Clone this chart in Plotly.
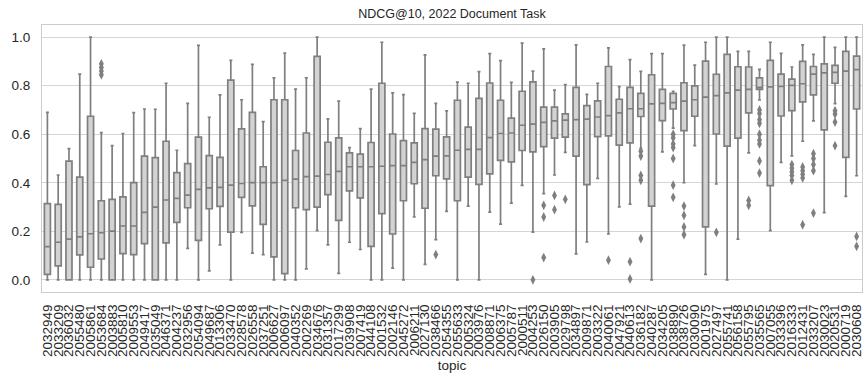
import plotly.graph_objects as go

topics = [
    "2032949","2033209","2036032","2055480","2005861","2053684","2003883","2005810","2009553","2049417",
    "2035049","2046371","2004237","2032956","2054094","2049687","2013306","2033470","2028578","2026558",
    "2037251","2006627","2006097","2040352","2002269","2034676","2031357","2017299","2039908","2007419",
    "2044108","2001532","2002146","2045272","2006211","2027130","2038466","2054355","2055633","2005324",
    "2003976","2008871","2006375","2005787","2000511","2004253","2026150","2003905","2029798","2034897",
    "2009871","2003322","2040061","2047921","2040613","2036182","2040287","2034205","2038890","2038726",
    "2030090","2001975","2027497","2055741","2056158","2055795","2035565","2007055","2033396","2016333",
    "2012431","2033207","2030023","2020531","2000719","2030608",
]

lower = [0, 0, 0, 0, 0, 0, 0, 0, 0, 0,
         0, 0, 0, 0.13, 0, 0.037, 0.144, 0, 0.196, 0.11,
         0.104, 0, 0, 0, 0.045, 0.203, 0.144, 0.027, 0.155, 0.125,
         0, 0, 0.048, 0, 0.259, 0.064, 0.166, 0.282, 0, 0.304,
         0, 0.279, 0.23, 0.316, 0.389, 0.197, 0.355, 0.432, 0.525, 0.107,
         0.156, 0.418, 0.189, 0.301, 0.312, 0.542, 0, 0.527, 0.625, 0.4,
         0.553, 0.023, 0.395, 0, 0.168, 0.523, 0.741, 0.203, 0.484, 0.511,
         0.571, 0.655, 0.277, 0.726, 0.344, 0.429]
q1 = [0.023, 0.058, 0, 0.103, 0.052, 0.086, 0, 0.108, 0.104, 0.149,
      0, 0.152, 0.237, 0.297, 0.163, 0.293, 0.303, 0.197, 0.34, 0.305,
      0.229, 0.095, 0.026, 0.297, 0.289, 0.3, 0.351, 0.245, 0.367, 0.338,
      0.138, 0.273, 0.189, 0.326, 0.396, 0.295, 0.429, 0.416, 0.326, 0.423,
      0.393, 0.437, 0.492, 0.486, 0.533, 0.527, 0.549, 0.584, 0.588, 0.51,
      0.392, 0.59, 0.593, 0.555, 0.564, 0.673, 0.304, 0.656, 0.704, 0.615,
      0.674, 0.218, 0.601, 0.551, 0.584, 0.688, 0.785, 0.388, 0.675, 0.697,
      0.733, 0.762, 0.618, 0.81, 0.505, 0.704]
median = [0.137, 0.155, 0.168, 0.177, 0.19, 0.195, 0.201, 0.222, 0.222, 0.278,
          0.3, 0.329, 0.336, 0.349, 0.373, 0.379, 0.381, 0.39, 0.397, 0.401,
          0.401, 0.401, 0.41, 0.415, 0.425, 0.427, 0.434, 0.447, 0.466, 0.466,
          0.466, 0.468, 0.471, 0.471, 0.484, 0.495, 0.51, 0.511, 0.534, 0.538,
          0.538, 0.586, 0.603, 0.605, 0.637, 0.642, 0.649, 0.655, 0.658, 0.66,
          0.662, 0.671, 0.677, 0.688, 0.705, 0.705, 0.725, 0.727, 0.73, 0.736,
          0.742, 0.753, 0.759, 0.77, 0.782, 0.785, 0.793, 0.795, 0.797, 0.801,
          0.808, 0.848, 0.853, 0.855, 0.86, 0.866]
q3 = [0.314, 0.311, 0.489, 0.423, 0.674, 0.326, 0.332, 0.342, 0.401, 0.51,
      0.504, 0.571, 0.442, 0.479, 0.588, 0.512, 0.505, 0.823, 0.622, 0.69,
      0.466, 0.742, 0.742, 0.533, 0.605, 0.921, 0.567, 0.585, 0.523, 0.518,
      0.566, 0.81, 0.601, 0.574, 0.564, 0.623, 0.621, 0.589, 0.74, 0.629,
      0.748, 0.811, 0.74, 0.666, 0.777, 0.816, 0.712, 0.712, 0.684, 0.793,
      0.718, 0.737, 0.879, 0.744, 0.793, 0.768, 0.845, 0.785, 0.768, 0.812,
      0.799, 0.901, 0.847, 0.929, 0.878, 0.877, 0.832, 0.904, 0.848, 0.827,
      0.9, 0.879, 0.89, 0.884, 0.941, 0.922]
upper = [0.69, 0.432, 0.541, 0.848, 1.0, 0.607, 0.553, 0.603, 0.689, 0.704,
         0.703, 0.81, 0.534, 0.727, 0.966, 0.67, 0.762, 0.904, 0.742, 0.888,
         0.652, 0.832, 0.934, 0.786, 0.832, 1.0, 0.663, 0.736, 0.545, 0.623,
         0.786, 0.979, 0.77, 0.763, 0.686, 0.927, 0.727, 0.696, 0.815, 0.81,
         0.858, 0.932, 0.903, 0.814, 0.975, 0.86, 0.952, 0.782, 0.804, 0.968,
         0.764, 0.81, 0.956, 0.796, 0.907, 0.859, 0.932, 0.932, 0.777, 0.967,
         0.885, 0.979, 1.0, 1.0, 0.941, 0.941, 0.867, 0.979, 0.933, 0.877,
         0.968, 0.929, 1.0, 0.958, 1.0, 1.0]

# outliers: topic index (0-based) and value
outlier_index = [5, 5, 5, 5,
                 36, 45,
                 46, 46, 46, 47, 47, 48, 52, 54, 54,
                 55, 55, 55, 55, 55,
                 58, 58, 58, 58, 58, 58, 58,
                 59, 59, 59, 59, 62, 65, 65,
                 66, 66, 66, 66, 66, 66, 66, 66, 66,
                 69, 69, 69, 69, 69,
                 70, 70, 70, 70, 70,
                 71, 71, 71, 71, 71,
                 73, 73, 73, 73, 75, 75]
outlier_value = [0.89, 0.875, 0.86, 0.845,
                 0.104, 0.0,
                 0.307, 0.259, 0.092, 0.348, 0.289, 0.332, 0.081, 0.075, 0.004,
                 0.53, 0.51, 0.43, 0.41, 0.17,
                 0.60, 0.585, 0.56, 0.545, 0.50, 0.39, 0.34,
                 0.304, 0.266, 0.218, 0.186, 0.196, 0.327, 0.307,
                 0.70, 0.685, 0.66, 0.645, 0.60, 0.575, 0.56, 0.49, 0.44,
                 0.475, 0.46, 0.445, 0.43, 0.41,
                 0.465, 0.45, 0.435, 0.42, 0.227,
                 0.52, 0.50, 0.475, 0.45, 0.275,
                 0.697, 0.683, 0.65, 0.553, 0.179, 0.138]

EDGE = "#7f7f7f"
FILL = "#d3d3d3"
FONT = "Liberation Sans, Arial, sans-serif"

fig = go.Figure()
fig.add_trace(go.Box(
    x=topics, q1=q1, median=median, q3=q3,
    lowerfence=lower, upperfence=upper,
    boxpoints=False,
    fillcolor=FILL,
    line=dict(color=EDGE, width=1.7),
    whiskerwidth=0.5,
    showlegend=False,
    hoverinfo="skip",
))
fig.add_trace(go.Scatter(
    x=[topics[i] for i in outlier_index], y=outlier_value,
    mode="markers",
    marker=dict(symbol="diamond-tall", size=7, color=EDGE, line=dict(width=0)),
    showlegend=False,
    hoverinfo="skip",
))

fig.update_layout(
    width=864, height=381,
    margin=dict(l=42, r=0, t=25, b=89),
    paper_bgcolor="white", plot_bgcolor="white",
    boxgap=0.2,
    font=dict(family=FONT, size=13.5, color="#262626"),
    title=dict(text="NDCG@10, 2022 Document Task", x=0.5, xref="paper",
               y=1, yref="paper", yanchor="bottom", pad=dict(b=7),
               font=dict(size=12.5, color="#262626")),
)
fig.update_xaxes(
    type="category", categoryorder="array", categoryarray=topics,
    range=[-0.5, len(topics) - 0.5],
    tickmode="linear", tick0=0, dtick=1,
    showgrid=False, showline=True, mirror=True, linecolor="#cccccc", linewidth=1.2,
    tickangle=-90, ticks="", tickfont=dict(size=13.5), ticklabelstandoff=6,
    title=dict(text="topic", standoff=4, font=dict(size=13.5)),
    zeroline=False,
)
fig.update_yaxes(
    range=[-0.05, 1.05],
    tickvals=[0.0, 0.2, 0.4, 0.6, 0.8, 1.0],
    ticktext=["0.0", "0.2", "0.4", "0.6", "0.8", "1.0"],
    showgrid=True, gridcolor="#d5d5d5", gridwidth=1.2,
    showline=True, mirror=True, linecolor="#cccccc", linewidth=1.2,
    ticks="", ticklabelstandoff=8, zeroline=False,
)

fig.write_html("out.html")
